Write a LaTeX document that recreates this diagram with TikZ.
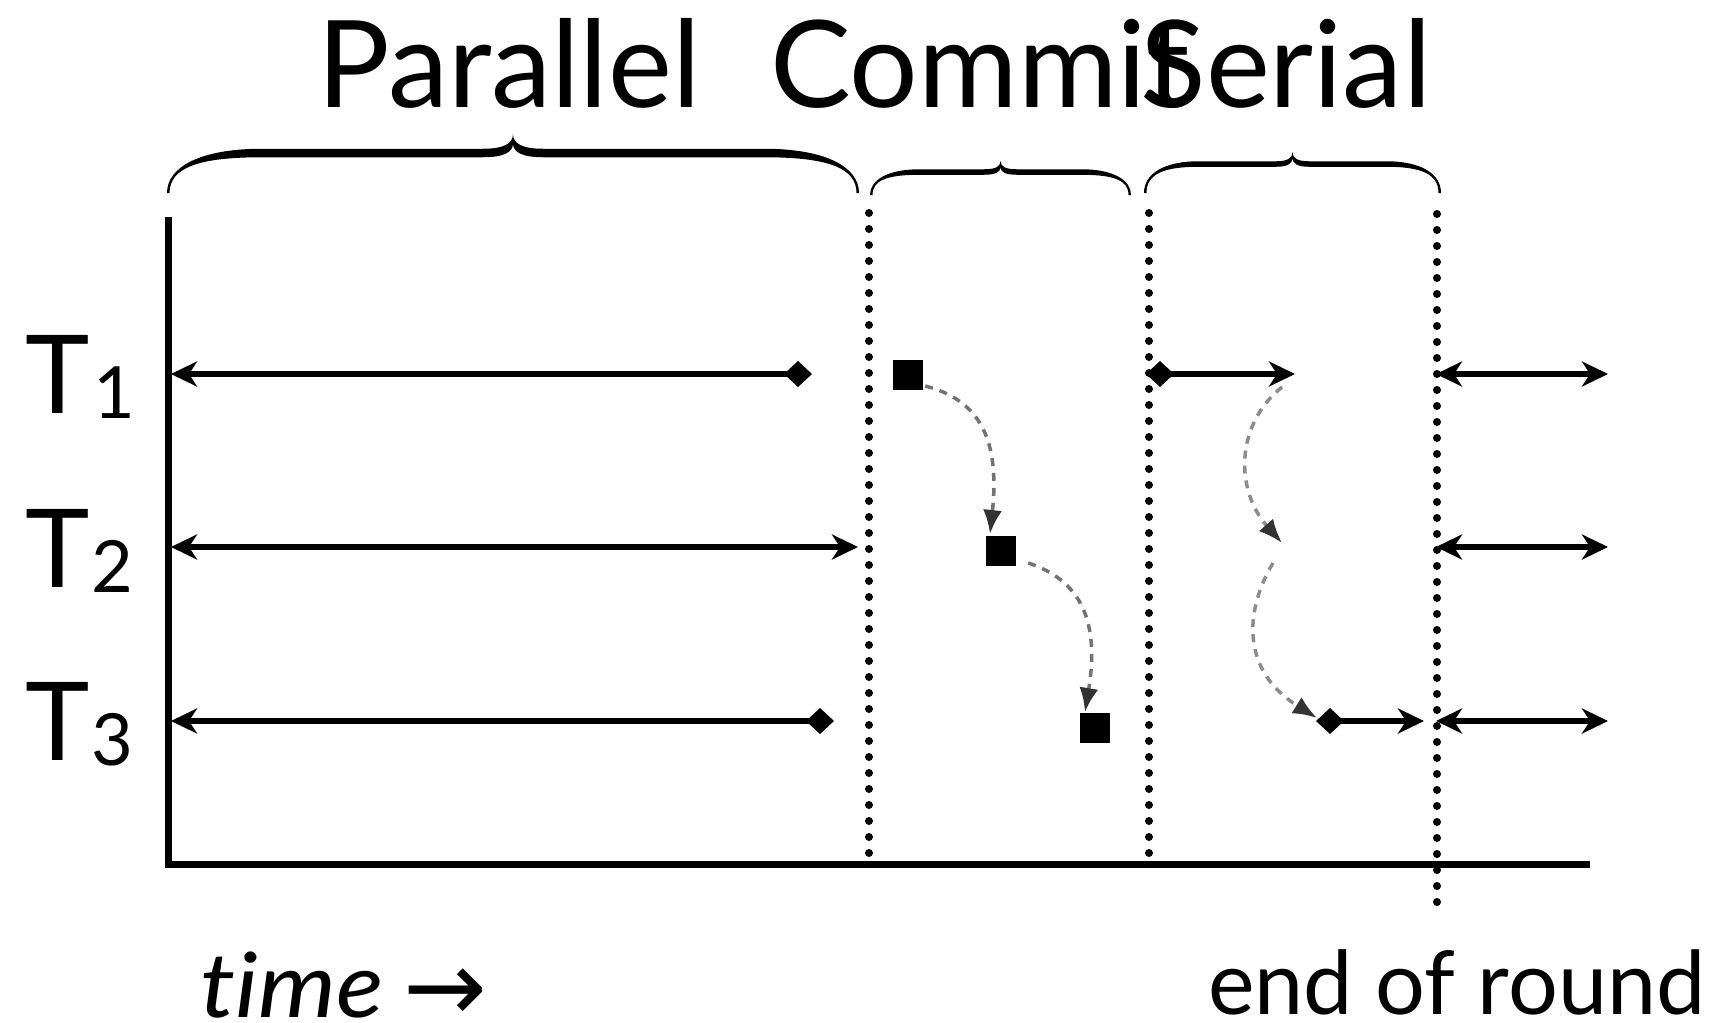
\documentclass[tikz,border=0pt]{standalone}
\usepackage{fontspec}
\setmainfont{Lato}[Ligatures=NoCommon]
\newfontfamily\arrowfont{DejaVu Sans}
\usetikzlibrary{arrows.meta}

% tapered curly brace opening downwards:
% #1 left x, #2 right x, #3 tip y, #4 middle y, #5 end y, #6 end radius, #7 tip half-width, #8 thickness
\newcommand\drawbrace[8]{%
  \pgfmathsetmacro\bxm{(#1+#2)/2}%
  \pgfmathsetmacro\bya{#4-#8/2}%
  \pgfmathsetmacro\byb{#4+#8/2}%
  \pgfmathsetmacro\byc{#4+0.35*(#5-#4)}%
  \pgfmathsetmacro\byt{(#3+#4)/2}%
  \fill[black]
    (#1,#5) .. controls (#1,\byc) and ({#1+0.35*#6},\bya) .. ({#1+#6},\bya)
    -- ({\bxm-#7},\bya) .. controls ({\bxm-0.3*#7},\bya) and (\bxm,\byt) .. (\bxm,#3)
    .. controls (\bxm,\byt) and ({\bxm+0.3*#7},\bya) .. ({\bxm+#7},\bya)
    -- ({#2-#6},\bya) .. controls ({#2-0.35*#6},\bya) and (#2,\byc) .. (#2,#5)
    -- ({#2-2.5},#5) .. controls ({#2-2.5},\byc) and ({#2-0.35*#6},\byb) .. ({#2-#6},\byb)
    -- ({\bxm+#7},\byb) .. controls ({\bxm+0.3*#7},\byb) and ({\bxm+0.5},{\byt+#8}) .. (\bxm,{#3+1.2*#8})
    .. controls ({\bxm-0.5},{\byt+#8}) and ({\bxm-0.3*#7},\byb) .. ({\bxm-#7},\byb)
    -- ({#1+#6},\byb) .. controls ({#1+0.35*#6},\byb) and ({#1+2.5},\byc) .. ({#1+2.5},#5) -- cycle;
}

\begin{document}
\begin{tikzpicture}[x=1pt,y=-1pt,
  title/.style={inner sep=0pt, font=\fontsize{121}{121}\selectfont},
  tlabel/.style={inner sep=0pt, anchor=base west, font=\fontsize{109}{109}\selectfont},
  note/.style={inner sep=0pt, anchor=base west},
  axisline/.style={line width=7pt, line join=miter},
  rowline/.style={line width=6pt},
  head/.tip={Stealth[length=26pt,width=25pt,inset=8pt]},
  knob/.tip={Diamond[length=28pt,width=26pt]},
  dotline/.style={line width=8pt, line cap=round, dash pattern=on 0pt off 16pt},
  token/.style={fill=black, inner sep=0pt, minimum size=30pt},
  handoff/.style={draw=black!55, line width=3.5pt, dash pattern=on 8pt off 7pt,
    -{Latex[length=24pt,width=19pt,color=black!80]}},
  softhandoff/.style={handoff, draw=black!45}
]
\useasboundingbox (0,0) rectangle (1722,1023);

% phase titles
\node[title, anchor=base] (par) at (509,107) {Parallel};
\node[title, anchor=base west] (com) at (770,107) {Commit};
\node[title, anchor=base] (ser) at (1286,107) {Serial};

% braces under the titles
\drawbrace{167}{859}{134}{153}{193}{95}{30}{8.5}
\drawbrace{870}{1131}{161}{172}{195}{50}{16}{5.5}
\drawbrace{1144}{1441}{152}{164}{193}{55}{16}{5.5}

% thread labels
\newcommand\subdigit[1]{\raisebox{-5pt}{\fontsize{72}{72}\selectfont #1}}
\node[tlabel] (t1) at (25,413) {T\kern4pt\subdigit{1}};
\node[tlabel] (t2) at (25,587) {T\kern2pt\subdigit{2}};
\node[tlabel] (t3) at (25,760) {T\kern2pt\subdigit{3}};

% axes
\coordinate (ytop) at (168,217);
\coordinate (orig) at (168,864);
\coordinate (xend) at (1590,864);
\draw[axisline] (ytop) -- (orig) -- (xend);

% phase boundaries
\coordinate (b1a) at (869,213); \coordinate (b1b) at (869,856);
\coordinate (b2a) at (1149,213); \coordinate (b2b) at (1149,856);
\coordinate (b3a) at (1437,214); \coordinate (b3b) at (1437,916);
\draw[dotline] (b1a) -- (b1b);
\draw[dotline] (b2a) -- (b2b);
\draw[dotline] (b3a) -- (b3b);

% parallel phase
\coordinate (a1) at (171,374); \coordinate (e1) at (812,374);
\coordinate (a2) at (171,547); \coordinate (e2) at (858,547);
\coordinate (a3) at (171,721); \coordinate (e3) at (834,721);
\draw[rowline, head-knob] (a1) -- (e1);
\draw[rowline, head-head] (a2) -- (e2);
\draw[rowline, head-knob] (a3) -- (e3);

% commit phase
\node[token] (c1) at (908,375) {};
\node[token] (c2) at (1001,551) {};
\node[token] (c3) at (1095,728) {};
\coordinate (h1) at (990,534);
\coordinate (h2) at (1085,712);
\draw[handoff] ([shift={(2,11)}]c1.east) .. controls (980,400) and (1000,440) .. (h1);
\draw[handoff] ([shift={(12,12)}]c2.east) .. controls (1080,580) and (1100,620) .. (h2);

% serial phase
\coordinate (s1a) at (1146,374); \coordinate (s1b) at (1295,374);
\coordinate (s3a) at (1316,721); \coordinate (s3b) at (1424,721);
\draw[rowline, knob-head] (s1a) -- (s1b);
\draw[rowline, knob-head] (s3a) -- (s3b);
\coordinate (w1) at (1282,387); \coordinate (w2) at (1282,543);
\coordinate (w3) at (1273,563); \coordinate (w4) at (1317,718);
\draw[softhandoff] (w1) .. controls (1235,425) and (1235,490) .. (w2);
\draw[softhandoff] (w3) .. controls (1245,610) and (1240,670) .. (w4);

% next round
\coordinate (n1a) at (1436,374); \coordinate (n1b) at (1608,374);
\coordinate (n2a) at (1436,547); \coordinate (n2b) at (1608,547);
\coordinate (n3a) at (1436,721); \coordinate (n3b) at (1608,721);
\draw[rowline, head-head] (n1a) -- (n1b);
\draw[rowline, head-head] (n2a) -- (n2b);
\draw[rowline, head-head] (n3a) -- (n3b);

% bottom notes
\node[note, font=\fontsize{90}{90}\selectfont] (time) at (200,1017)
  {\scalebox{1.1}[1]{\itshape time}\kern20pt\raisebox{-4pt}{\arrowfont\fontsize{100}{100}\selectfont →}};
\node[note, font=\fontsize{88}{88}\selectfont] (eor) at (1208,1014) {end of round};
\end{tikzpicture}
\end{document}
